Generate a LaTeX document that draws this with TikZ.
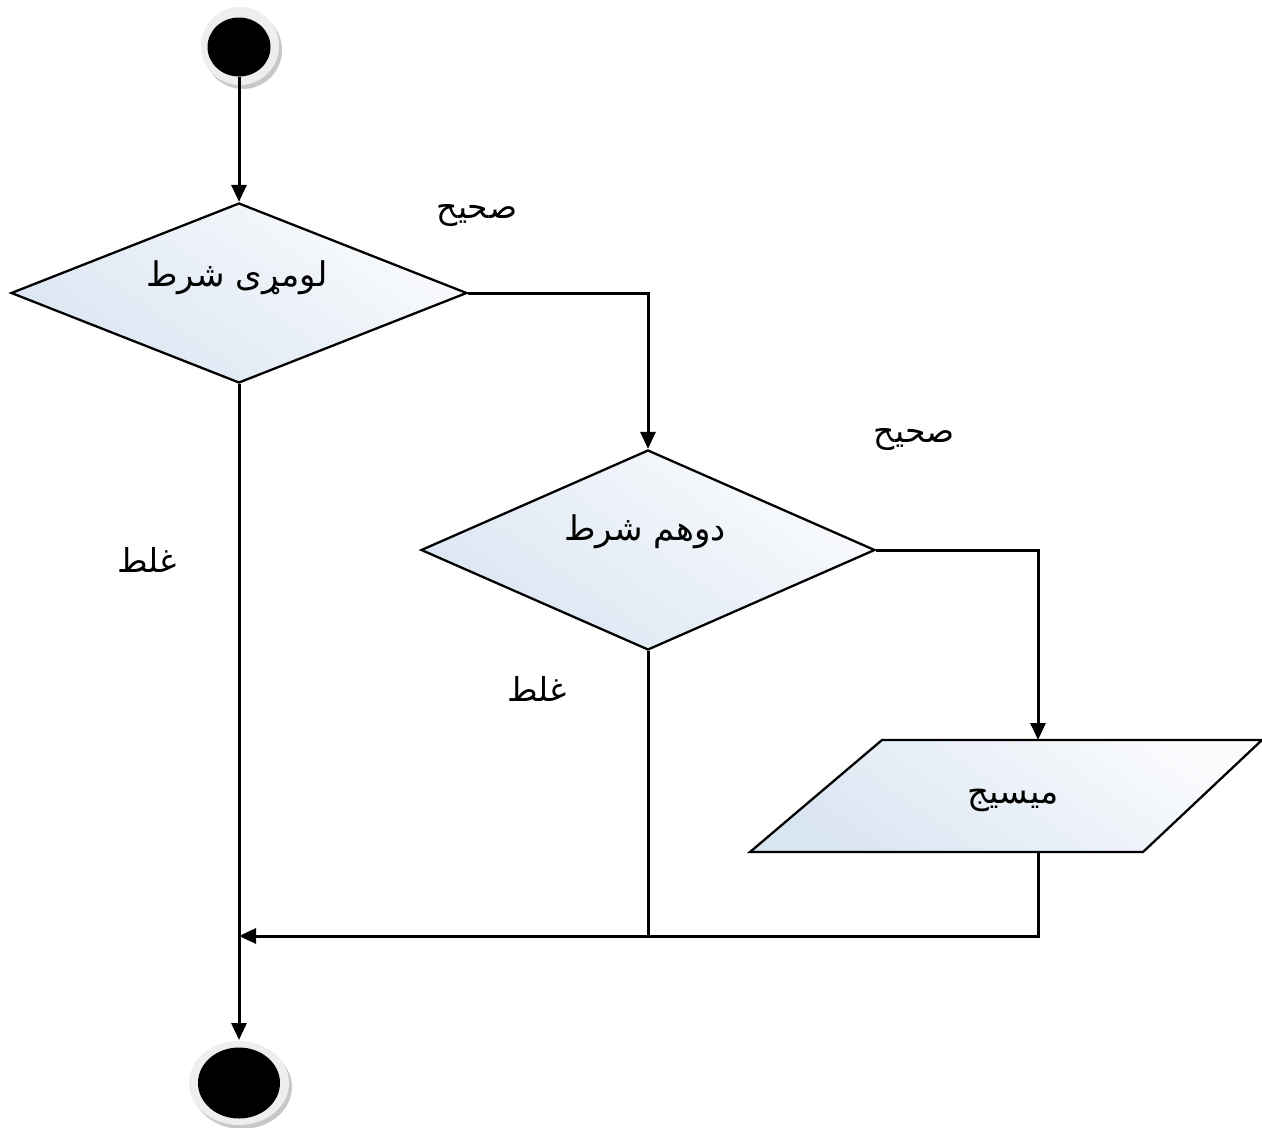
\documentclass[tikz,border=0pt]{standalone}
\usepackage{fontspec}
\newfontfamily\arabicfont[Script=Arabic]{DejaVu Sans}
\TeXXeTstate=1
\usetikzlibrary{shapes.geometric,arrows.meta}
\definecolor{shLight}{RGB}{250,251,253}
\definecolor{shDark}{RGB}{218,229,242}
\definecolor{ringc}{RGB}{238,238,238}
\definecolor{shadowc}{RGB}{200,200,200}
\tikzset{
  dia/.style={diamond, draw=black, line width=2.3pt, inner sep=0pt,
    top color=shLight, bottom color=shDark, shading angle=-35},
  big/.style={font=\arabicfont\fontsize{34}{38}\selectfont},
  lbl/.style={font=\arabicfont\fontsize{33}{36}\selectfont},
  conn/.style={line width=3pt},
  arr/.style={line width=3pt, -{Triangle[length=17pt,width=15pt]}},
}
\begin{document}
\begin{tikzpicture}[x=1pt,y=-1pt]
\useasboundingbox (0,0) rectangle (1262,1128);
% start node
\fill[shadowc] (243,50) circle (39);
\fill[ringc] (240,46) circle (39);
\node[ellipse, fill=black, minimum width=63pt, minimum height=59pt, inner sep=0pt] (start) at (239,47) {};
% end node
\fill[shadowc] (242,1087) ellipse (50 and 42);
\fill[ringc] (239,1083) ellipse (50 and 42);
\node[ellipse, fill=black, minimum width=82pt, minimum height=71pt, inner sep=0pt] (stop) at (239,1083) {};
\coordinate (stopin) at (239,1040);
% decisions
\node[dia, minimum width=456pt, minimum height=180pt] (d1) at (239,293) {};
\node[big] (d1t) at (237,278) {\beginR لومړی شرط\endR};
\node[dia, minimum width=454pt, minimum height=200pt] (d2) at (648,550) {};
\node[big] (d2t) at (645,532) {\beginR دوهم شرط\endR};
% message parallelogram
\coordinate (pA) at (882,740);
\coordinate (pB) at (1262,740);
\coordinate (pC) at (1143,852);
\coordinate (pD) at (750,852);
\shade[top color=shLight, bottom color=shDark, shading angle=-35] (pA) -- (pB) -- (pC) -- (pD) -- cycle;
\draw[line width=2.3pt, line join=miter] (pA) -- (pB) -- (pC) -- (pD) -- cycle;
\node[big] (msg) at (1013,800) {\beginR میسیج\endR};
\coordinate (msgtop) at (1038,740);
\coordinate (msgbot) at (1038,852);
% merge points
\coordinate (m1) at (1038,936);
\coordinate (m2) at (648,936);
\coordinate (mj) at (239,936);
% connectors
\draw[arr] (start) -- (d1.north);
\draw[arr] (d1.east) -| (d2.north);
\draw[arr] (d2.east) -| (msgtop);
\draw[arr] (d1.south) -- (stopin);
\draw[conn] (d2.south) -- (m2);
\draw[arr] (msgbot) -- (m1) -- (mj);
% labels
\node[lbl] (t1) at (477,216) {\beginR صحیح\endR};
\node[lbl] (t2) at (914,440) {\beginR صحیح\endR};
\node[lbl] (f1) at (147,560) {\beginR غلط\endR};
\node[lbl] (f2) at (537,689) {\beginR غلط\endR};
\end{tikzpicture}
\end{document}
